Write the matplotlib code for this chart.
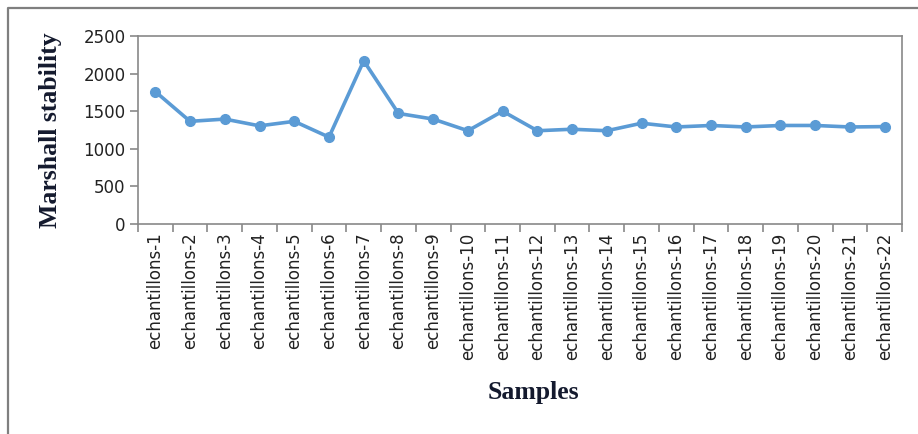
import numpy as np
import matplotlib
matplotlib.use("Agg")
import matplotlib.pyplot as plt
from matplotlib.lines import Line2D

samples = [f"echantillons-{i}" for i in range(1, 23)]
stability = [1760, 1365, 1395, 1305, 1365, 1155, 2170, 1470, 1395, 1240,
             1500, 1240, 1260, 1240, 1340, 1290, 1310, 1290, 1310, 1310,
             1290, 1295]
yticks = [0, 500, 1000, 1500, 2000, 2500]

fig = plt.figure(figsize=(9.18, 4.34), dpi=100)
ax = fig.add_axes([0.1503, 0.4839, 0.8323, 0.4332])

x = np.arange(1, len(samples) + 1)
ax.plot(x, stability, color="#5B9BD5", linewidth=2.6, marker="o",
        markersize=7, markeredgecolor="#5B9BD5")

ax.set_xlim(0.5, len(samples) + 0.5)
ax.set_ylim(0, 2500)
ax.set_yticks(yticks)
ax.set_xticks(x)
ax.set_xticklabels(samples, rotation=90, fontsize=12)
ax.set_xticks(np.arange(0.5, len(samples) + 1), minor=True)
ax.tick_params(axis="x", which="major", length=0, pad=6)
ax.tick_params(axis="x", which="minor", length=6, width=1.2, color="#898989")
ax.tick_params(axis="y", length=6, width=1.2, color="#898989", labelsize=12, pad=3)
for lab in ax.get_yticklabels():
    lab.set_color("#222222")
for lab in ax.get_xticklabels():
    lab.set_color("#222222")

for s in ax.spines.values():
    s.set_color("#898989")
    s.set_linewidth(1.2)

label_font = dict(family="Liberation Serif", fontweight="bold", fontsize=18.5,
                  color="#141a2e")
ax.set_ylabel("Marshall stability", **label_font)
ax.yaxis.set_label_coords(-0.100, 0.50)
ax.set_xlabel("Samples", **label_font)
ax.xaxis.set_label_coords(0.518, -0.835)

# outer chart frame (left and top edges only visible)
fx = 8 / 918
fy = 1 - 8 / 434
fig.add_artist(Line2D([fx, fx, 1.0], [0.0, fy, fy], transform=fig.transFigure,
                      color="#7f7f7f", linewidth=1.6))

fig.savefig("out.png", dpi=100)
